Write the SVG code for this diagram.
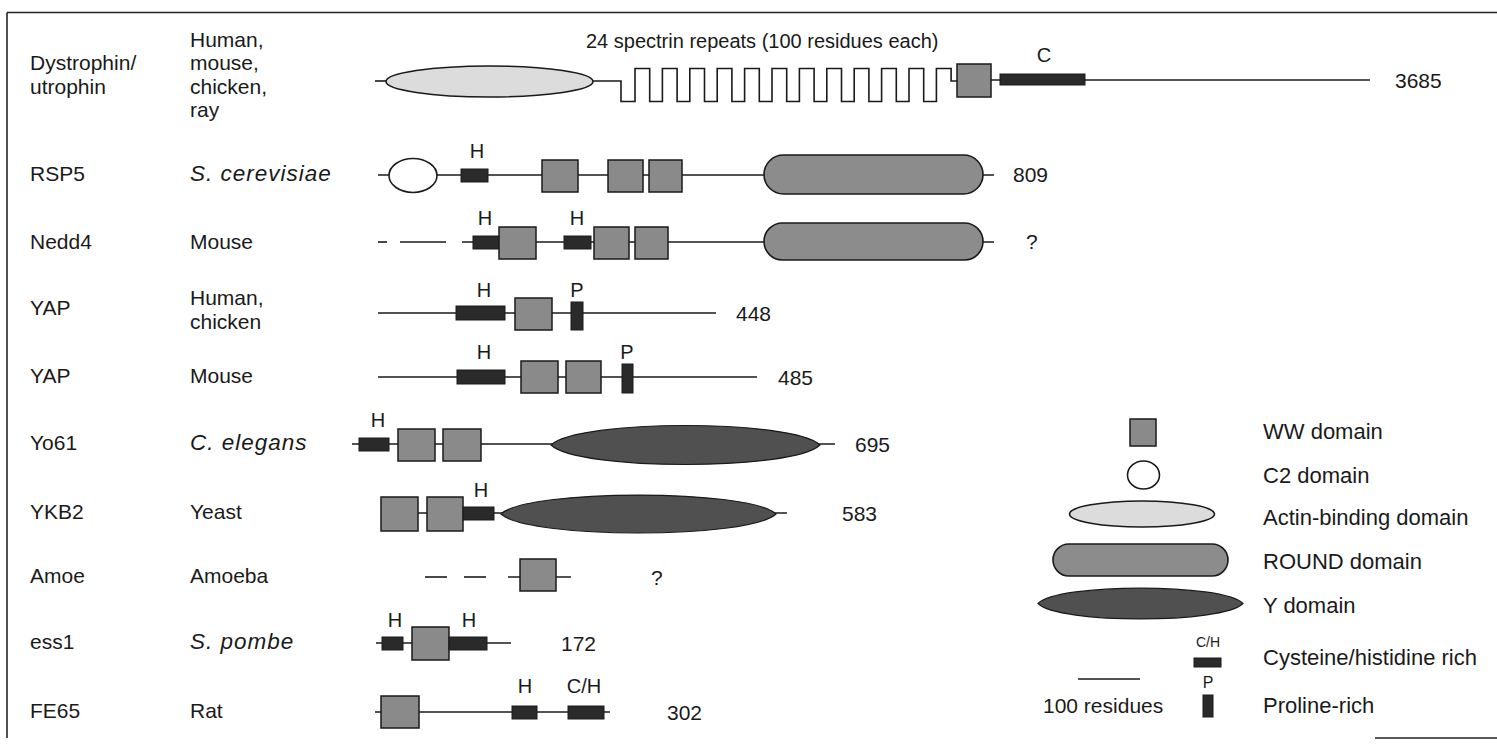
<svg xmlns="http://www.w3.org/2000/svg" width="1497" height="744" viewBox="0 0 1497 744">
<defs>
<style>
text{font-family:"Liberation Sans",Arial,sans-serif;fill:#1a1a1a;}
.t{font-size:21px;}
.it{font-style:italic;font-size:22.5px;letter-spacing:1px;}
.lg{font-size:22px;}
.lb{font-size:20px;text-anchor:middle;}
.sm{font-size:14px;text-anchor:middle;}
.bb{stroke:#1a1a1a;stroke-width:1.6;fill:none;}
.ww{fill:#8a8a8a;stroke:#1a1a1a;stroke-width:1.5;}
.hb{fill:#2a2a2a;stroke:#1a1a1a;stroke-width:1;}
.rd{fill:#8c8c8c;stroke:#1a1a1a;stroke-width:1.6;}
.yd{fill:#505050;stroke:#1a1a1a;stroke-width:1.2;}
.ab{fill:#dcdcdc;stroke:#1a1a1a;stroke-width:1.6;}
.c2{fill:#fff;stroke:#1a1a1a;stroke-width:1.6;}
</style>
</defs>
<rect width="1497" height="744" fill="#fff"/>
<g id="frame" stroke="#222" stroke-width="1.6" fill="none">
<line x1="7" y1="12.5" x2="1497" y2="12.5"/>
<line x1="7" y1="12.5" x2="7" y2="738"/>
<line x1="1375" y1="738" x2="1497" y2="738"/>
</g>

<g id="labels">
<text class="t" x="30" y="70">Dystrophin/</text>
<text class="t" x="30" y="93.5">utrophin</text>
<text class="t" x="190" y="46.5">Human,</text>
<text class="t" x="190" y="70">mouse,</text>
<text class="t" x="190" y="93.5">chicken,</text>
<text class="t" x="190" y="117">ray</text>
<text class="t" x="30" y="181">RSP5</text>
<text class="it" x="190" y="181">S. cerevisiae</text>
<text class="t" x="30" y="249">Nedd4</text>
<text class="t" x="190" y="249">Mouse</text>
<text class="t" x="30" y="315">YAP</text>
<text class="t" x="190" y="305">Human,</text>
<text class="t" x="190" y="329">chicken</text>
<text class="t" x="30" y="383">YAP</text>
<text class="t" x="190" y="383">Mouse</text>
<text class="t" x="30" y="450">Yo61</text>
<text class="it" x="190" y="450">C. elegans</text>
<text class="t" x="30" y="519">YKB2</text>
<text class="t" x="190" y="519">Yeast</text>
<text class="t" x="30" y="583">Amoe</text>
<text class="t" x="190" y="583">Amoeba</text>
<text class="t" x="30" y="649">ess1</text>
<text class="it" x="190" y="649">S. pombe</text>
<text class="t" x="30" y="718">FE65</text>
<text class="t" x="190" y="718">Rat</text>
</g>

<g id="connectors">
<line class="bb" x1="375" y1="81" x2="386" y2="81"/>
<path class="bb" d="M593,81 H621 V101.5 H635 V68.5 H649.7 V101.5 H662.4 V68.5 H677.1 V101.5 H689.8 V68.5 H704.5 V101.5 H717.2 V68.5 H731.9 V101.5 H744.6 V68.5 H759.3 V101.5 H772 V68.5 H786.7 V101.5 H799.4 V68.5 H814.1 V101.5 H826.8 V68.5 H841.5 V101.5 H854.2 V68.5 H868.9 V101.5 H881.6 V68.5 H896.3 V101.5 H909 V68.5 H923.7 V101.5 H936.4 V68.5 H951.1 V81 H957"/>
<line class="bb" x1="991" y1="80" x2="1370" y2="80"/>
<line class="bb" x1="378" y1="175" x2="994" y2="175"/>
<line class="bb" x1="378" y1="242" x2="387" y2="242"/>
<line class="bb" x1="400" y1="242" x2="446" y2="242"/>
<line class="bb" x1="462" y1="242" x2="994" y2="242"/>
<line class="bb" x1="378" y1="313" x2="716" y2="313"/>
<line class="bb" x1="378" y1="377" x2="757" y2="377"/>
<line class="bb" x1="352" y1="444" x2="835" y2="444"/>
<line class="bb" x1="418" y1="513" x2="787" y2="513"/>
<line class="bb" x1="425" y1="577" x2="447" y2="577"/>
<line class="bb" x1="464" y1="577" x2="486" y2="577"/>
<line class="bb" x1="508" y1="577" x2="571" y2="577"/>
<line class="bb" x1="376" y1="643" x2="511" y2="643"/>
<line class="bb" x1="375" y1="712" x2="610" y2="712"/>
</g>

<g id="dystrophin">
<ellipse class="ab" cx="489.5" cy="81.5" rx="103.5" ry="15.5"/>
<rect class="ww" x="957" y="64" width="34" height="33"/>
<rect class="hb" x="1000" y="74" width="85" height="11"/>
<text class="lb" x="1044" y="62">C</text>
<text class="t" x="586" y="48" style="font-size:20px">24 spectrin repeats (100 residues each)</text>
<text class="t" x="1395" y="88">3685</text>
</g>

<g id="rsp5">
<ellipse class="c2" cx="413" cy="175.5" rx="24" ry="17"/>
<rect class="hb" x="461" y="169" width="27" height="13"/>
<text class="lb" x="477" y="158">H</text>
<rect class="ww" x="542" y="160" width="36" height="32"/>
<rect class="ww" x="608" y="160" width="35" height="32"/>
<rect class="ww" x="649" y="160" width="33" height="32"/>
<rect class="rd" x="764" y="155" width="219" height="39" rx="19.5"/>
<text class="t" x="1013" y="182">809</text>
</g>

<g id="nedd4">
<rect class="hb" x="473" y="236" width="27" height="13"/>
<text class="lb" x="485" y="225">H</text>
<rect class="ww" x="499" y="227" width="37" height="32"/>
<rect class="hb" x="564" y="236" width="27" height="13"/>
<text class="lb" x="577" y="225">H</text>
<rect class="ww" x="594" y="227" width="35" height="32"/>
<rect class="ww" x="635" y="227" width="33" height="32"/>
<rect class="rd" x="764" y="223" width="219" height="37" rx="18.5"/>
<text class="t" x="1026" y="249">?</text>
</g>

<g id="yap-human">
<rect class="hb" x="456" y="306" width="49" height="14"/>
<text class="lb" x="484" y="297">H</text>
<rect class="ww" x="515" y="298" width="37" height="32"/>
<rect class="hb" x="571" y="302" width="12" height="28"/>
<text class="lb" x="577" y="297">P</text>
<text class="t" x="736" y="321">448</text>
</g>

<g id="yap-mouse">
<rect class="hb" x="457" y="370" width="48" height="14"/>
<text class="lb" x="484" y="359">H</text>
<rect class="ww" x="521" y="361" width="37" height="32"/>
<rect class="ww" x="566" y="361" width="35" height="32"/>
<rect class="hb" x="622" y="364" width="11" height="29"/>
<text class="lb" x="627" y="359">P</text>
<text class="t" x="778" y="385">485</text>
</g>

<g id="yo61">
<rect class="hb" x="359" y="438" width="30" height="13"/>
<text class="lb" x="378" y="427">H</text>
<rect class="ww" x="398" y="429" width="37" height="32"/>
<rect class="ww" x="443" y="429" width="38" height="32"/>
<path class="yd" d="M551,445 C578,419 793,419 820,445 C793,471 578,471 551,445 Z"/>
<text class="t" x="855" y="452">695</text>
</g>

<g id="ykb2">
<rect class="ww" x="381" y="497" width="37" height="34"/>
<rect class="ww" x="427" y="497" width="36" height="34"/>
<rect class="hb" x="463" y="507" width="31" height="13"/>
<text class="lb" x="481" y="497">H</text>
<path class="yd" d="M501,514 C528,488.7 749,488.7 776,514 C749,539.3 528,539.3 501,514 Z"/>
<text class="t" x="842" y="521">583</text>
</g>

<g id="amoe">
<rect class="ww" x="520" y="559" width="36" height="32"/>
<text class="t" x="651" y="585">?</text>
</g>

<g id="ess1">
<rect class="hb" x="382" y="637" width="21" height="13"/>
<text class="lb" x="395" y="627">H</text>
<rect class="ww" x="412" y="627" width="37" height="33"/>
<rect class="hb" x="449" y="637" width="38" height="13"/>
<text class="lb" x="469" y="627">H</text>
<text class="t" x="561" y="651">172</text>
</g>

<g id="fe65">
<rect class="ww" x="381" y="696" width="38" height="32"/>
<rect class="hb" x="512" y="706" width="25" height="13"/>
<text class="lb" x="525" y="693">H</text>
<rect class="hb" x="568" y="706" width="36" height="13"/>
<text class="lb" x="584" y="693">C/H</text>
<text class="t" x="667" y="720">302</text>
</g>

<g id="legend">
<rect class="ww" x="1130" y="419" width="26" height="27"/>
<text class="lg" x="1263" y="439">WW domain</text>
<ellipse class="c2" cx="1143.5" cy="475" rx="16" ry="14"/>
<text class="lg" x="1263" y="483">C2 domain</text>
<ellipse class="ab" cx="1142" cy="514" rx="72.5" ry="13"/>
<text class="lg" x="1263" y="524.5">Actin-binding domain</text>
<rect class="rd" x="1053" y="544" width="175" height="32" rx="16"/>
<text class="lg" x="1263" y="569">ROUND domain</text>
<path class="yd" d="M1038,603.5 C1058,583 1223,583 1243,603.5 C1223,624 1058,624 1038,603.5 Z"/>
<text class="lg" x="1263" y="613">Y domain</text>
<text class="sm" x="1208" y="647">C/H</text>
<rect class="hb" x="1194" y="658" width="27" height="9"/>
<text class="lg" x="1263" y="665">Cysteine/histidine rich</text>
<line class="bb" x1="1078" y1="679" x2="1140" y2="679"/>
<text class="sm" x="1208" y="688" style="font-size:16px">P</text>
<rect class="hb" x="1203" y="695" width="10" height="22"/>
<text class="t" x="1043" y="713">100 residues</text>
<text class="lg" x="1263" y="713">Proline-rich</text>
</g>
</svg>
